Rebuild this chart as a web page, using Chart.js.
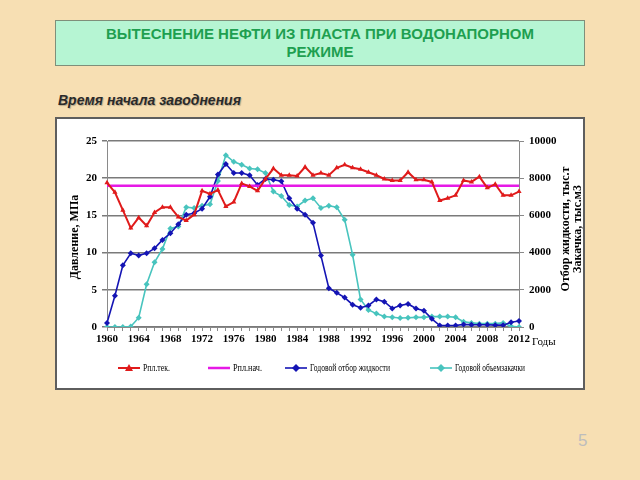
<!DOCTYPE html>
<html>
<head>
<meta charset="utf-8">
<script src="https://cdn.jsdelivr.net/npm/chart.js@4.4.0/dist/chart.umd.min.js"></script>
<style>
	body { margin: 0; width: 640px; height: 480px; background: #F7DFB3; position: relative; overflow: hidden; font-family: "Liberation Sans", Arial, sans-serif; }
	#title { position: absolute; left: 55px; top: 20px; width: 528px; height: 44px; background: #B6F5D3; border: 1px solid #7f8f7a; color: #1E9F50; font-weight: bold; font-size: 15px; line-height: 18px; text-align: center; display: flex; align-items: center; justify-content: center; }
	#sub { position: absolute; left: 58px; top: 92px; font-size: 14px; font-weight: bold; font-style: italic; color: #2a2a2a; text-shadow: 1px 1px 1px #b9a98a; }
	#box { position: absolute; left: 55px; top: 117px; width: 526px; height: 269px; background: #fff; border: 2px solid #5e5e5e; }
	#page { position: absolute; left: 578px; top: 431px; font-size: 17px; color: #bdbdbd; }
	canvas { display: block; }
</style>
</head>
<body>
<div id="title"><div>ВЫТЕСНЕНИЕ НЕФТИ ИЗ ПЛАСТА ПРИ ВОДОНАПОРНОМ<br>РЕЖИМЕ</div></div>
<div id="sub">Время начала заводнения</div>
<div id="box"><canvas id="chart" width="526" height="269"></canvas></div>
<div id="page">5</div>
<script>
// годы
const years = [1960, 1961, 1962, 1963, 1964, 1965, 1966, 1967, 1968, 1969,
	1970, 1971, 1972, 1973, 1974, 1975, 1976, 1977, 1978, 1979,
	1980, 1981, 1982, 1983, 1984, 1985, 1986, 1987, 1988, 1989,
	1990, 1991, 1992, 1993, 1994, 1995, 1996, 1997, 1998, 1999,
	2000, 2001, 2002, 2003, 2004, 2005, 2006, 2007, 2008, 2009,
	2010, 2011, 2012];

// Рпл.тек., МПа
const pTek = [19.4, 18.1, 15.7, 13.3, 14.7, 13.6, 15.4, 16.1, 16.1, 14.8,
	14.3, 15.1, 18.3, 17.9, 18.4, 16.2, 16.8, 19.3, 18.9, 18.3,
	19.9, 21.3, 20.4, 20.4, 20.3, 21.5, 20.4, 20.7, 20.4, 21.4,
	21.8, 21.4, 21.2, 20.8, 20.4, 19.9, 19.7, 19.7, 20.8, 19.8,
	19.8, 19.5, 17.0, 17.3, 17.7, 19.7, 19.5, 20.2, 18.7, 19.2,
	17.7, 17.7, 18.2];

// Рпл.нач., МПа
const pNach = [19, 19, 19, 19, 19, 19, 19, 19, 19, 19,
	19, 19, 19, 19, 19, 19, 19, 19, 19, 19,
	19, 19, 19, 19, 19, 19, 19, 19, 19, 19,
	19, 19, 19, 19, 19, 19, 19, 19, 19, 19,
	19, 19, 19, 19, 19, 19, 19, 19, 19, 19,
	19, 19, 19];

// Годовой отбор жидкости, тыс.т
const otbor = [220, 1680, 3320, 3960, 3850, 3960, 4230, 4680, 5040, 5520,
	6040, 6120, 6360, 7000, 8200, 8760, 8280, 8280, 8160, 7640,
	7960, 7920, 7840, 6920, 6360, 6040, 5600, 3840, 2080, 1840,
	1580, 1200, 1040, 1160, 1480, 1360, 1000, 1160, 1240, 1000,
	880, 440, 80, 80, 80, 140, 120, 120, 120, 100,
	100, 260, 320];

// Годовой объем закачки, тыс.м3
const zakachka = [0, 0, 0, 30, 500, 2300, 3480, 4200, 5300, 5400,
	6440, 6400, 6520, 6600, 7850, 9240, 8880, 8720, 8520, 8480,
	8280, 7280, 7040, 6560, 6480, 6800, 6920, 6400, 6520, 6440,
	5760, 3880, 1480, 920, 720, 560, 520, 480, 500, 520,
	520, 560, 560, 560, 520, 280, 220, 180, 180, 180,
	220, 40, 0];

const serif = '"Liberation Serif", "Times New Roman", serif';

// подписи осей и легенда
const extras = {
	id: 'extras',
	afterDraw(chart) {
		const ctx = chart.ctx;
		ctx.save();
		ctx.fillStyle = '#000';
		ctx.textBaseline = 'middle';

		ctx.font = 'bold 12px ' + serif;
		ctx.textAlign = 'center';
		const vt = (t, x, y) => {
			ctx.save();
			ctx.translate(x, y);
			ctx.rotate(-Math.PI / 2);
			ctx.fillText(t, 0, 0);
			ctx.restore();
		};
		vt('Давление, МПа', 18, 118);
		vt('Отбор жидкости, тыс.т', 509, 110);
		vt('Закачка, тыс.м3', 521, 110);

		ctx.font = '11px ' + serif;
		ctx.textAlign = 'left';
		ctx.fillText('Годы', 475, 223);

		// легенда
		const items = [
			{ ds: 0, x: 61, w: 86, tw: 27 },
			{ ds: 1, x: 151, w: 176, tw: 29 },
			{ ds: 2, x: 228, w: 253, tw: 80 },
			{ ds: 3, x: 373, w: 398, tw: 70 }
		];
		const ly = 249;
		ctx.font = '10px ' + serif;
		items.forEach(it => {
			const d = chart.data.datasets[it.ds];
			ctx.strokeStyle = d.borderColor;
			ctx.lineWidth = d.borderWidth;
			ctx.beginPath();
			ctx.moveTo(it.x, ly);
			ctx.lineTo(it.x + 22, ly);
			ctx.stroke();
			if (d.pointRadius > 0) {
				const cx = it.x + 11;
				ctx.fillStyle = d.borderColor;
				ctx.beginPath();
				if (d.pointStyle === 'triangle') {
					ctx.moveTo(cx, ly - 4);
					ctx.lineTo(cx + 4, ly + 3);
					ctx.lineTo(cx - 4, ly + 3);
				} else {
					ctx.moveTo(cx, ly - 4);
					ctx.lineTo(cx + 4, ly);
					ctx.lineTo(cx, ly + 4);
					ctx.lineTo(cx - 4, ly);
				}
				ctx.closePath();
				ctx.fill();
			}
			ctx.fillStyle = '#000';
			ctx.fillText(d.label, it.w, ly, it.tw);
		});
		ctx.restore();
	}
};

const ctx = document.getElementById('chart').getContext('2d');
new Chart(ctx, {
	type: 'line',
	data: {
		labels: years,
		datasets: [{
			label: 'Рпл.тек.',
			data: pTek,
			yAxisID: 'y',
			borderColor: '#E01B1B',
			backgroundColor: '#E01B1B',
			borderWidth: 2,
			pointStyle: 'triangle',
			pointRadius: 3,
			pointBorderWidth: 0
		}, {
			label: 'Рпл.нач.',
			data: pNach,
			yAxisID: 'y',
			borderColor: '#E619E6',
			backgroundColor: '#E619E6',
			borderWidth: 2.5,
			pointRadius: 0
		}, {
			label: 'Годовой отбор жидкости',
			data: otbor,
			yAxisID: 'y1',
			borderColor: '#1414B4',
			backgroundColor: '#1414B4',
			borderWidth: 1.6,
			pointStyle: 'rectRot',
			pointRadius: 3,
			pointBorderWidth: 0
		}, {
			label: 'Годовой объемзакачки',
			data: zakachka,
			yAxisID: 'y1',
			borderColor: '#48C4BE',
			backgroundColor: '#48C4BE',
			borderWidth: 1.6,
			pointStyle: 'rectRot',
			pointRadius: 3,
			pointBorderWidth: 0
		}]
	},
	options: {
		responsive: false,
		animation: false,
		devicePixelRatio: 1,
		layout: { padding: { top: 22, bottom: 31, left: 0, right: 0 } },
		plugins: {
			legend: { display: false },
			tooltip: { enabled: false }
		},
		elements: { line: { tension: 0 } },
		scales: {
			x: {
				grid: { drawOnChartArea: false, color: '#8a8a8a', tickLength: 4 },
				border: { color: '#8a8a8a' },
				ticks: {
					autoSkip: false,
					maxRotation: 0,
					padding: 2,
					color: '#000',
					font: { family: serif, size: 11, weight: 'bold' },
					callback: (v, i) => years[i] % 4 === 0 ? years[i] : ''
				},
				afterFit: s => { s.height = 30; }
			},
			y: {
				position: 'left',
				min: 0,
				max: 25,
				grid: { color: '#7a7a7a', lineWidth: 1.5, tickLength: 5 },
				border: { color: '#8a8a8a' },
				ticks: {
					stepSize: 5,
					padding: 5,
					color: '#000',
					font: { family: serif, size: 11, weight: 'bold' }
				},
				afterFit: s => { s.width = 50; }
			},
			y1: {
				position: 'right',
				min: 0,
				max: 10000,
				grid: { drawOnChartArea: false, color: '#8a8a8a', tickLength: 5 },
				border: { color: '#8a8a8a' },
				ticks: {
					stepSize: 2000,
					padding: 5,
					color: '#000',
					font: { family: serif, size: 11, weight: 'bold' },
					callback: v => String(v)
				},
				afterFit: s => { s.width = 64; }
			}
		}
	},
	plugins: [extras]
});
</script>
</body>
</html>
